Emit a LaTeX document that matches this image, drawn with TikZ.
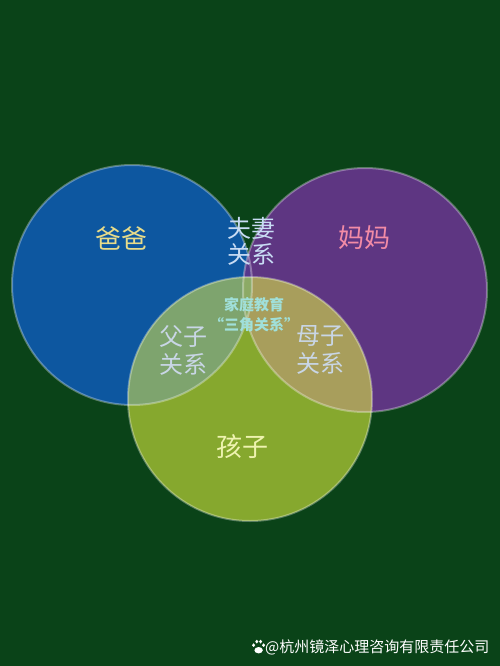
\documentclass[tikz,border=0pt]{standalone}
\usepackage{fontspec}
\newfontfamily\cjk{Noto Sans CJK SC}
\definecolor{bgc}{HTML}{0A4318}
\definecolor{bluec}{HTML}{0D57A0}
\definecolor{purplec}{HTML}{5E3682}
\definecolor{greenc}{HTML}{86A82E}
\definecolor{bpc}{HTML}{56398C}
\definecolor{bgrc}{HTML}{7EA46E}
\definecolor{pgc}{HTML}{A89E5C}
\definecolor{allc}{HTML}{8CAA66}
\definecolor{dadc}{HTML}{E8DC8A}
\definecolor{momc}{HTML}{F28BA6}
\definecolor{couplec}{HTML}{C8DCF4}
\definecolor{centerc}{HTML}{A0E0DA}
\definecolor{relc}{HTML}{C9D6E6}
\definecolor{kidc}{HTML}{EEF3B0}
\tikzset{
  lbl/.style={font=\cjk\fontsize{#1}{#1}\selectfont, inner sep=0pt, align=center},
  ring/.style={draw=white, draw opacity=0.32, line width=2pt},
}
\begin{document}
\begin{tikzpicture}[x=1pt,y=-1pt]
\useasboundingbox (0,0) rectangle (500,666);
\fill[bgc] (0,0) rectangle (500,666);
\coordinate (B) at (132,285);
\coordinate (P) at (365,290);
\coordinate (G) at (250,399);
\def\rB{120}\def\rP{122}\def\rG{122}
% base fills
\fill[bluec] (B) circle[radius=\rB];
\fill[purplec] (P) circle[radius=\rP];
\fill[greenc] (G) circle[radius=\rG];
% overlaps
\begin{scope}
  \clip (B) circle[radius=\rB];
  \fill[bpc] (P) circle[radius=\rP];
  \fill[bgrc] (G) circle[radius=\rG];
\end{scope}
\begin{scope}
  \clip (P) circle[radius=\rP];
  \fill[pgc] (G) circle[radius=\rG];
\end{scope}
\begin{scope}
  \clip (B) circle[radius=\rB];
  \clip (P) circle[radius=\rP];
  \fill[allc] (G) circle[radius=\rG];
\end{scope}
% outlines
\draw[ring] (B) circle[radius=\rB];
\draw[ring] (P) circle[radius=\rP];
\draw[ring] (G) circle[radius=\rG];
% labels
\node[lbl=26, text=dadc] (dad) at (121,238) {爸爸};
\node[lbl=26, text=momc] (mom) at (364,238) {妈妈};
\node[lbl=24, text=couplec] (couple) at (251,241) {夫妻\\[2pt]关系};
\node[lbl=15, text=centerc, font=\cjk\bfseries\fontsize{15}{15}\selectfont] (center) at (254,315) {家庭教育\\[5pt]“三角关系”};
\node[lbl=24, text=relc] (father) at (183,350) {父子\\[4pt]关系};
\node[lbl=24, text=relc] (mother) at (320,350) {母子\\[4pt]关系};
\node[lbl=26, text=kidc] (kid) at (242,447) {孩子};
% watermark
\begin{scope}[white]
  \fill (253.6,645.2) ellipse[x radius=1.6, y radius=1.9];
  \fill (256.8,641.6) ellipse[x radius=1.6, y radius=1.9];
  \fill (260.6,641.6) ellipse[x radius=1.6, y radius=1.9];
  \fill (263.6,645.2) ellipse[x radius=1.6, y radius=1.9];
  \fill (258.6,650.2) ellipse[x radius=4.2, y radius=3.2];
\end{scope}
\node[lbl=15, text=white, anchor=west] (mark) at (265,647) {@杭州镜泽心理咨询有限责任公司};
\end{tikzpicture}
\end{document}
